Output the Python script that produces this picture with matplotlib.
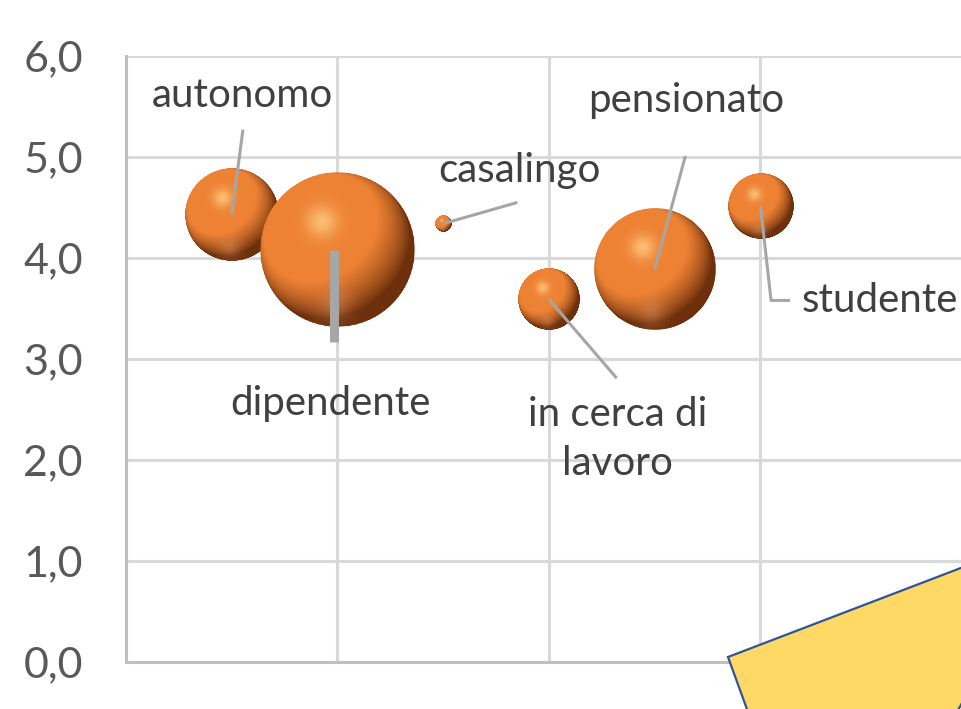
import numpy as np
import matplotlib
matplotlib.use("Agg")
import matplotlib.pyplot as plt
from matplotlib.offsetbox import OffsetImage, AnnotationBbox
from matplotlib.patches import Polygon
from matplotlib.ticker import FuncFormatter

# bubble data (x position, mean score, relative bubble area)
labels = ["autonomo", "dipendente", "casalingo", "in cerca di\nlavoro", "pensionato", "studente"]
x_vals = [1, 2, 3, 4, 5, 6]
y_vals = [4.43, 4.08, 4.34, 3.59, 3.89, 4.51]
sizes = [36, 100, 1.1, 16, 61, 18]

# label anchors (data coords) and leader-line paths
label_xy = [(1.10, 5.61), (1.93, 2.56), (3.72, 4.87), (4.65, 2.21), (5.30, 5.56), (7.13, 3.58)]
leaders = [
    [(1.0, 4.43), (1.106, 5.27)],
    None,
    [(3.0, 4.34), (3.70, 4.55)],
    [(4.0, 3.59), (4.64, 2.81)],
    [(5.0, 3.89), (5.29, 5.01)],
    [(6.0, 4.51), (6.10, 3.58), (6.28, 3.58)],
]

W, H, DPI = 962, 709, 100
max_diam = 155  # px for the biggest bubble


def sphere(n=256):
    g = np.linspace(-1, 1, n)
    u, v = np.meshgrid(g, -g)
    r2 = u**2 + v**2
    z = np.sqrt(np.clip(1 - r2, 0, 1))
    L = np.array([-0.35, 0.45, 0.82])
    L = L / np.linalg.norm(L)
    diff = np.clip(u * L[0] + v * L[1] + z * L[2], 0, 1)
    orange = np.array([238, 130, 52]) / 255
    dark = np.array([110, 48, 12]) / 255
    t = np.clip(diff * 1.6, 0, 1)[..., None]
    col = dark + (orange - dark) * t
    spec = np.exp(-((u + 0.2) ** 2 + (v - 0.36) ** 2) / 0.04)[..., None]
    col = col * (1 - 0.7 * spec) + np.array([255, 215, 140]) / 255 * 0.7 * spec
    rim = 0.3 * np.exp(-((u + 0.05) ** 2 + (v + 0.72) ** 2) / 0.05)[..., None]
    col = col * (1 - rim) + np.array([245, 170, 120]) / 255 * rim
    alpha = np.clip((1 - np.sqrt(r2)) * n / 2 + 0.5, 0, 1)
    return np.dstack([np.clip(col, 0, 1), alpha])


fig = plt.figure(figsize=(W / DPI, H / DPI), dpi=DPI)
ax = fig.add_axes([126 / W, 47 / H, 846 / W, 606 / H])
ax.set_xlim(0, 8)
ax.set_ylim(0, 6)
ax.set_xticks([0, 2, 4, 6, 8])
ax.set_yticks(range(7))
ax.grid(True, color="#D9D9D9", lw=2.2, zorder=0)
for s in ["top", "right"]:
    ax.spines[s].set_visible(False)
for s in ["left", "bottom"]:
    ax.spines[s].set_color("#BFBFBF")
    ax.spines[s].set_linewidth(2.2)
ax.tick_params(length=0, labelbottom=False, pad=31)
ax.yaxis.set_major_formatter(FuncFormatter(lambda v, p: f"{v:.1f}".replace(".", ",")))
for t in ax.get_yticklabels():
    t.set_fontsize(31)
    t.set_color("#595959")
    t.set_family("Lato")

img = sphere()
mx = max(sizes)
for x, y, s in zip(x_vals, y_vals, sizes):
    d = max_diam * np.sqrt(s / mx)
    oi = OffsetImage(img, zoom=d / img.shape[1], dpi_cor=False)
    ab = AnnotationBbox(oi, (x, y), frameon=False, pad=0, zorder=3)
    ax.add_artist(ab)

# leader lines
for path in leaders:
    if path is None:
        continue
    xs, ys = zip(*path)
    ax.plot(xs, ys, color="#A6A6A6", lw=2.2, zorder=4, solid_capstyle="butt")
# thick leader for "dipendente"
ax.plot([1.97, 1.97], [4.08, 3.17], color="#A6A6A6", lw=6.5, zorder=4, solid_capstyle="butt")

for lab, (lx, ly) in zip(labels, label_xy):
    ax.text(lx, ly, lab, ha="center", va="center", fontsize=29, color="#404040",
            family="Lato", linespacing=1.4, zorder=5)

# yellow shape overlapping the bottom-right corner
pts = [(728, 657), (1000, 553), (962, 703), (957, 712), (748, 712)]
poly = Polygon([(px / W, 1 - py / H) for px, py in pts], closed=True,
               transform=fig.transFigure, facecolor="#FFD966", edgecolor="#2F5597",
               lw=1.6, zorder=10)
fig.patches.append(poly)

fig.savefig("out.png", dpi=DPI)
